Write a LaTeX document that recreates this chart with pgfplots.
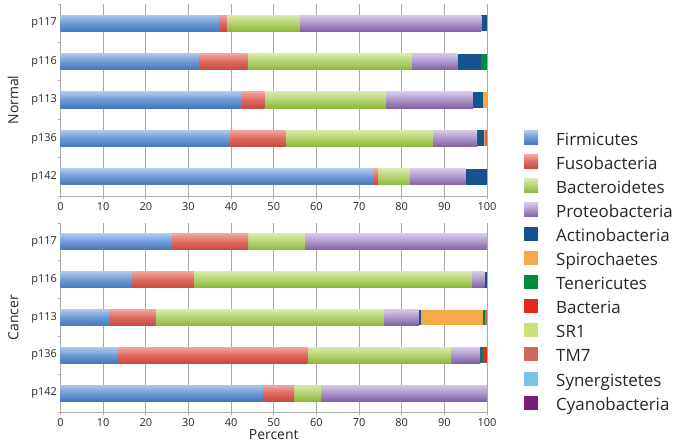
\documentclass[border=0pt]{standalone}
\usepackage{pgfplots}
\pgfplotsset{compat=1.18}
\usepackage{pgfplotstable}
\usepackage{fontspec}
\setmainfont{Open Sans}

\definecolor{firmT}{RGB}{172,200,236}
\definecolor{firmM}{RGB}{108,152,212}
\definecolor{firmB}{RGB}{70,120,190}
\definecolor{fusoT}{RGB}{240,165,158}
\definecolor{fusoM}{RGB}{222,104,94}
\definecolor{fusoB}{RGB}{200,74,64}
\definecolor{bactT}{RGB}{216,234,168}
\definecolor{bactM}{RGB}{180,210,112}
\definecolor{bactB}{RGB}{142,182,62}
\definecolor{protT}{RGB}{214,200,232}
\definecolor{protM}{RGB}{172,150,202}
\definecolor{protB}{RGB}{128,96,162}
\definecolor{actino}{RGB}{22,82,142}
\definecolor{spiro}{RGB}{245,170,72}
\definecolor{teneric}{RGB}{0,140,62}
\definecolor{bacteria}{RGB}{228,40,28}
\definecolor{srone}{RGB}{202,226,120}
\definecolor{tmseven}{RGB}{208,102,92}
\definecolor{synerg}{RGB}{120,196,232}
\definecolor{cyano}{RGB}{120,30,120}
\definecolor{gridc}{RGB}{170,170,170}

% columns: F=Firmicutes Fu=Fusobacteria B=Bacteroidetes P=Proteobacteria A=Actinobacteria
% S=Spirochaetes T=Tenericutes Ba=Bacteria SR=SR1 TM=TM7 Sy=Synergistetes C=Cyanobacteria
% y: 0=p142 1=p136 2=p113 3=p116 4=p117
% ---- Normal ----
\pgfplotstableread{
y F Fu B P A S T Ba SR TM Sy C
0 73.5 1.0 7.3 13.2 5.0 0 0 0 0 0 0 0
}\NpA
\pgfplotstableread{
y F Fu B P A S T Ba SR TM Sy C
1 39.7 13.1 34.4 10.5 1.5 0.3 0 0 0 0.5 0 0
}\NpB
\pgfplotstableread{
y F Fu B P A S T Ba SR TM Sy C
2 42.2 5.6 28.5 20.4 2.4 0.9 0 0 0 0 0 0
}\NpC
\pgfplotstableread{
y F Fu B P A S T Ba SR TM Sy C
3 32.3 11.6 38.5 10.7 5.4 0 1.5 0 0 0 0 0
}\NpD
\pgfplotstableread{
y F Fu B P A S T Ba SR TM Sy C
4 37.0 2.0 17.0 42.7 1.3 0 0 0 0 0 0 0
}\NpE
% ---- Cancer ----
\pgfplotstableread{
y F Fu B P A S T Ba SR TM Sy C
0 47.5 7.3 6.3 38.9 0 0 0 0 0 0 0 0
}\CpA
\pgfplotstableread{
y F Fu B P A S T Ba SR TM Sy C
1 13.5 44.4 33.7 6.8 0.3 0 0.3 1.0 0 0 0 0
}\CpB
\pgfplotstableread{
y F Fu B P A S T Ba SR TM Sy C
2 11.2 11.1 53.6 8.1 0.5 14.6 0.4 0 0 0.5 0 0
}\CpC
\pgfplotstableread{
y F Fu B P A S T Ba SR TM Sy C
3 16.8 14.5 65.2 2.9 0.6 0 0 0 0 0 0 0
}\CpD
\pgfplotstableread{
y F Fu B P A S T Ba SR TM Sy C
4 26.0 18.0 13.3 42.7 0 0 0 0 0 0 0 0
}\CpE

\pgfplotsset{
  ser/.style={fill=#1, draw=none,
    legend image code/.code={\path[fill=#1] (0bp,-4bp) rectangle (14bp,10bp);}},
  sers/.style n args={3}{draw=none, top color=#1, bottom color=#3, middle color=#2,
    legend image code/.code={\path[top color=#1, bottom color=#3, middle color=#2] (0bp,-4bp) rectangle (14bp,10bp);}},
  geom/.style={
    xbar stacked, bar width=0.42,
    scale only axis, width=426.5bp,
    xmin=0, xmax=100, ymin=-0.5, ymax=4.5,
  },
  mybars/.style={
    geom,
    xtick={0,10,...,100},
    ytick={-0.5,0.5,...,4.5}, yticklabels={},
    extra y ticks={0,1,2,3,4},
    extra y tick labels={p142,p136,p113,p116,p117},
    extra y tick style={major tick length=0pt, grid=none},
    xmajorgrids, ymajorgrids=false,
    grid style={gridc, line width=0.8pt},
    axis x line*=bottom, axis y line*=left,
    axis line style={gridc, line width=0.8pt},
    tick align=outside, major tick length=3bp,
    tick style={gridc, line width=0.8pt},
    /pgf/number format/assume math mode=true,
    ticklabel style={font=\fontsize{11}{13}\selectfont, text=black!85},
    label style={font=\fontsize{14}{16}\selectfont, text=black!85},
    ylabel shift=3bp,
  },
  hid/.style={geom, hide axis},
}

\newcommand\rowbars[1]{%
\addplot[sers={firmT}{firmM}{firmB}] table[x=F,y=y]{#1};
\addplot[sers={fusoT}{fusoM}{fusoB}] table[x=Fu,y=y]{#1};
\addplot[sers={bactT}{bactM}{bactB}] table[x=B,y=y]{#1};
\addplot[sers={protT}{protM}{protB}] table[x=P,y=y]{#1};
\addplot[ser=actino] table[x=A,y=y]{#1};
\addplot[ser=spiro] table[x=S,y=y]{#1};
\addplot[ser=teneric] table[x=T,y=y]{#1};
\addplot[ser=bacteria] table[x=Ba,y=y]{#1};
\addplot[ser=srone] table[x=SR,y=y]{#1};
\addplot[ser=tmseven] table[x=TM,y=y]{#1};
\addplot[ser=synerg] table[x=Sy,y=y]{#1};
\addplot[ser=cyano] table[x=C,y=y]{#1};
}

\begin{document}
\begin{tikzpicture}
\useasboundingbox (0,0) rectangle (679bp,-446bp);

% ---------- Normal panel ----------
\begin{axis}[mybars, at={(60.5bp,-4bp)}, anchor=north west, height=192bp,
  ylabel={Normal}]
\rowbars{\NpA}
\end{axis}
\begin{axis}[hid, at={(60.5bp,-4bp)}, anchor=north west, height=192bp]
\rowbars{\NpB}
\end{axis}
\begin{axis}[hid, at={(60.5bp,-4bp)}, anchor=north west, height=192bp]
\rowbars{\NpC}
\end{axis}
\begin{axis}[hid, at={(60.5bp,-4bp)}, anchor=north west, height=192bp]
\rowbars{\NpD}
\end{axis}
\begin{axis}[hid, at={(60.5bp,-4bp)}, anchor=north west, height=192bp]
\rowbars{\NpE}
\end{axis}

% ---------- Cancer panel ----------
\begin{axis}[mybars, at={(60.5bp,-223bp)}, anchor=north west, height=189bp,
  ylabel={Cancer}, xlabel={Percent},
  xlabel style={yshift=4bp},
  legend cell align=left,
  legend style={draw=none, fill=none, inner sep=0pt, anchor=north west,
    at={(axis description cs:1.0868,1.49)},
    font=\fontsize{17}{19}\selectfont, text=black!85,
    nodes={inner sep=0pt, text height=12bp, text depth=3bp},
    row sep=6.6bp,
    /tikz/every odd column/.append style={column sep=18bp}},
  ]
\rowbars{\CpA}
\legend{Firmicutes,Fusobacteria,Bacteroidetes,Proteobacteria,Actinobacteria,Spirochaetes,Tenericutes,Bacteria,SR1,TM7,Synergistetes,Cyanobacteria}
\end{axis}
\begin{axis}[hid, at={(60.5bp,-223bp)}, anchor=north west, height=189bp]
\rowbars{\CpB}
\end{axis}
\begin{axis}[hid, at={(60.5bp,-223bp)}, anchor=north west, height=189bp]
\rowbars{\CpC}
\end{axis}
\begin{axis}[hid, at={(60.5bp,-223bp)}, anchor=north west, height=189bp]
\rowbars{\CpD}
\end{axis}
\begin{axis}[hid, at={(60.5bp,-223bp)}, anchor=north west, height=189bp]
\rowbars{\CpE}
\end{axis}
\end{tikzpicture}
\end{document}
